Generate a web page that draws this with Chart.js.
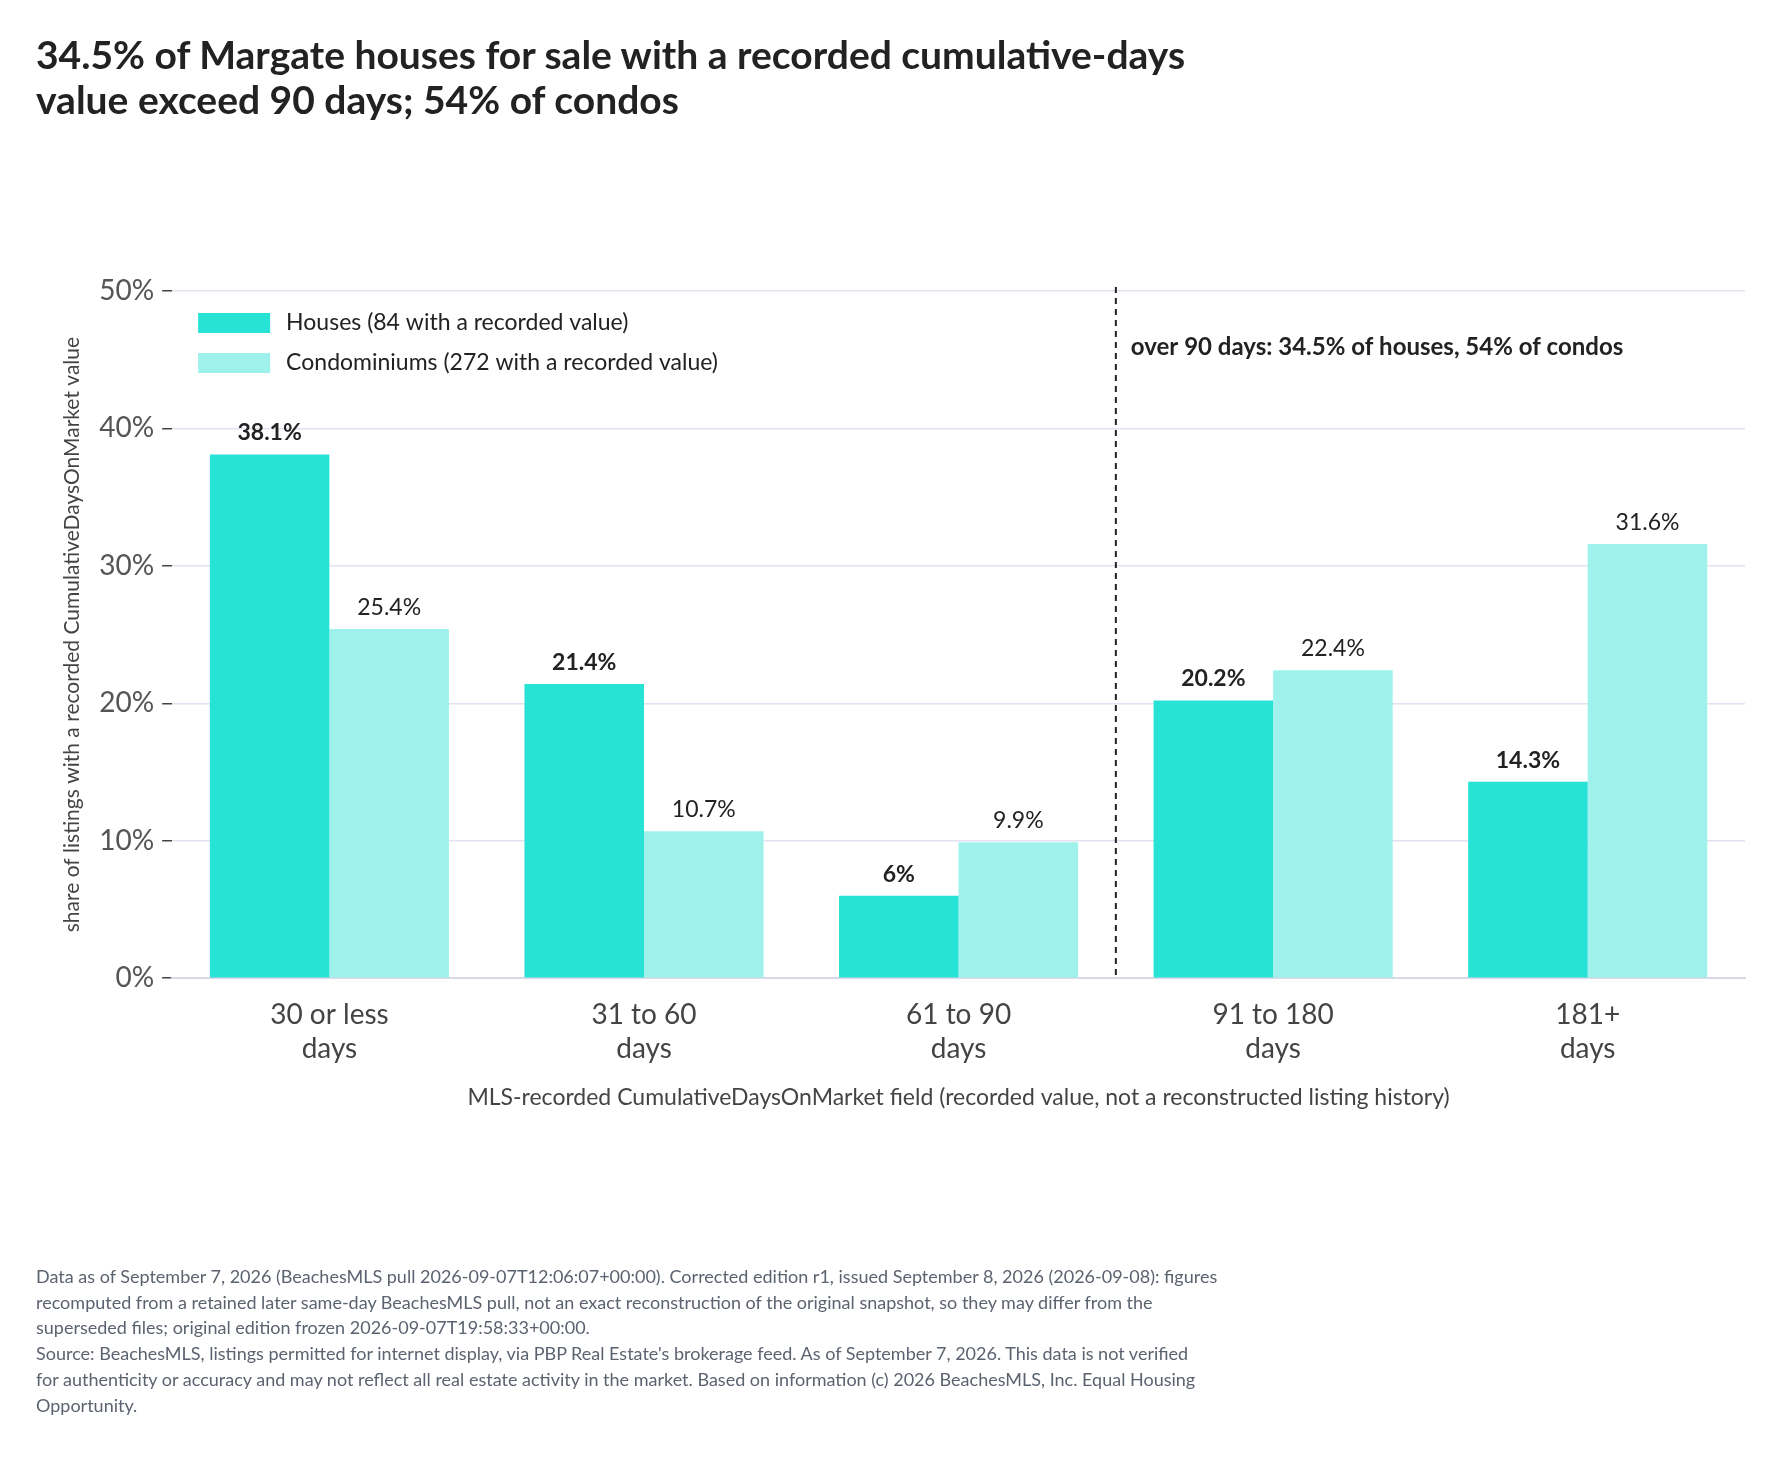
<!DOCTYPE html>
<html><head><meta charset="utf-8">
<script src="https://cdn.jsdelivr.net/npm/chart.js@4"></script>
<style>
body{margin:0;background:#fff;font-family:Lato,sans-serif;}
#title{position:absolute;left:36px;top:32px;font-size:39px;font-weight:700;color:#222;line-height:45px;}
#foot{position:absolute;left:36px;top:1264px;width:1330px;font-size:18px;color:#5c6370;line-height:25.7px;}
#wrap{position:absolute;left:0;top:0;width:1782px;height:1477px;}
</style></head>
<body>
<div id="wrap"><canvas id="c" width="1782" height="1477"></canvas></div>
<div id="title">34.5% of Margate houses for sale with a recorded cumulative-days<br>value exceed 90 days; 54% of condos</div>
<div id="foot">Data as of September 7, 2026 (BeachesMLS pull 2026-09-07T12:06:07+00:00). Corrected edition r1, issued September 8, 2026 (2026-09-08): figures<br>recomputed from a retained later same-day BeachesMLS pull, not an exact reconstruction of the original snapshot, so they may differ from the<br>superseded files; original edition frozen 2026-09-07T19:58:33+00:00.<br>Source: BeachesMLS, listings permitted for internet display, via PBP Real Estate's brokerage feed. As of September 7, 2026. This data is not verified<br>for authenticity or accuracy and may not reflect all real estate activity in the market. Based on information (c) 2026 BeachesMLS, Inc. Equal Housing<br>Opportunity.</div>
<script>
// ==================== DATA ====================
const categories = [['30 or less','days'],['31 to 60','days'],['61 to 90','days'],['91 to 180','days'],['181+','days']];
const houses = [38.1, 21.4, 6, 20.2, 14.3];
const condos = [25.4, 10.7, 9.9, 22.4, 31.6];
const seriesNames = ['Houses (84 with a recorded value)', 'Condominiums (272 with a recorded value)'];
const yTicks = [0, 10, 20, 30, 40, 50];
const note = 'over 90 days: 34.5% of houses, 54% of condos';

const HOUSE = '#26e3d6', CONDO = '#9ef2eb';

// labels, divider, legend drawn on top of the chart area
const extras = {
  id: 'extras',
  afterDatasetsDraw(chart) {
    const ctx = chart.ctx, a = chart.chartArea;
    ctx.save();
    ctx.textAlign = 'center'; ctx.textBaseline = 'bottom'; ctx.fillStyle = '#222';
    chart.data.datasets.forEach((ds, i) => {
      chart.getDatasetMeta(i).data.forEach((bar, j) => {
        ctx.font = (i === 0 ? '700 ' : '400 ') + '23px Lato';
        ctx.fillText(ds.data[j] + '%', bar.x, bar.y - 10);
      });
    });
    // divider between 61-90 and 91-180
    const xs = chart.scales.x;
    const dx = (xs.getPixelForValue(2) + xs.getPixelForValue(3)) / 2;
    ctx.strokeStyle = '#222'; ctx.lineWidth = 2; ctx.setLineDash([6, 5]);
    ctx.beginPath(); ctx.moveTo(dx, a.top - 4); ctx.lineTo(dx, a.bottom); ctx.stroke();
    ctx.setLineDash([]);
    ctx.textAlign = 'left'; ctx.textBaseline = 'middle';
    ctx.font = '700 24px Lato';
    ctx.fillText(note, dx + 15, a.top + 56);
    // legend
    [HOUSE, CONDO].forEach((col, i) => {
      const y = a.top + 32 + i * 40;
      ctx.fillStyle = col; ctx.fillRect(a.left + 26, y - 10, 72, 20);
      ctx.fillStyle = '#222'; ctx.font = '400 23px Lato';
      ctx.fillText(seriesNames[i], a.left + 98 + 16, y);
    });
    ctx.restore();
  }
};

new Chart(document.getElementById('c'), {
  type: 'bar',
  data: {
    labels: categories,
    datasets: [
      { label: seriesNames[0], data: houses, backgroundColor: HOUSE },
      { label: seriesNames[1], data: condos, backgroundColor: CONDO }
    ]
  },
  options: {
    responsive: false, animation: false, devicePixelRatio: 1,
    layout: { padding: { left: 56, right: 37, top: 291, bottom: 362 } },
    plugins: { legend: { display: false }, tooltip: { enabled: false } },
    datasets: { bar: { categoryPercentage: 0.76, barPercentage: 1 } },
    scales: {
      x: {
        grid: { display: false },
        border: { color: '#d8d8e8', width: 2 },
        ticks: { color: '#444', font: { family: 'Lato', size: 28 }, padding: 12 },
        title: { display: true, text: 'MLS-recorded CumulativeDaysOnMarket field (recorded value, not a reconstructed listing history)',
                 color: '#444', font: { family: 'Lato', size: 23 }, padding: { top: 6 } }
      },
      y: {
        min: 0, max: 50,
        afterBuildTicks: s => { s.ticks = yTicks.map(v => ({ value: v })); },
        grid: { color: '#e2e2f0', lineWidth: 1.5, tickLength: 10, tickColor: '#444' },
        border: { display: false },
        ticks: { color: '#555', font: { family: 'Lato', size: 28 }, padding: 8, callback: v => v + '%' },
        title: { display: true, text: 'share of listings with a recorded CumulativeDaysOnMarket value',
                 color: '#444', font: { family: 'Lato', size: 21 }, padding: { bottom: 6 } }
      }
    }
  },
  plugins: [extras]
});
</script>
</body></html>
